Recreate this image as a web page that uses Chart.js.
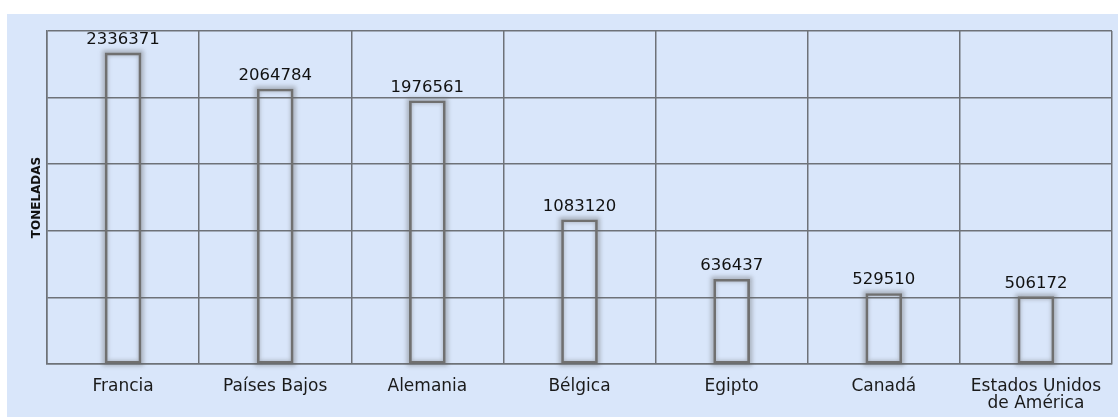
<!DOCTYPE html>
<html>
<head>
<meta charset="utf-8">
<script src="https://cdn.jsdelivr.net/npm/chart.js@4/dist/chart.umd.min.js"></script>
<style>
  html,body{margin:0;padding:0;background:#ffffff;}
  #wrap{width:1118px;height:417px;position:relative;}
</style>
</head>
<body>
<div id="wrap"><canvas id="c" width="1118" height="417"></canvas></div>
<script>
const categories = ["Francia", "Países Bajos", "Alemania", "Bélgica", "Egipto", "Canadá", ["Estados Unidos", "de América"]];
const toneladas = [2336371, 2064784, 1976561, 1083120, 636437, 529510, 506172];
const yAxisTitle = "TONELADAS";
const yMin = 0, yMax = 2500000, yStep = 500000;

const BG = '#d9e6fa';
const GRID = '#6e7278';

const bgPlugin = {
  id: 'bg',
  beforeDraw(chart) {
    const c = chart.ctx;
    c.save();
    c.fillStyle = '#ffffff';
    c.fillRect(0, 0, chart.width, chart.height);
    c.fillStyle = BG;
    c.fillRect(7, 14, chart.width - 7, chart.height - 14);
    c.restore();
  }
};

const shadowLabels = {
  id: 'shadowLabels',
  beforeDatasetsDraw(chart) {
    const c = chart.ctx;
    const meta = chart.getDatasetMeta(0);
    c.save();
    c.filter = 'blur(2px)';
    c.strokeStyle = 'rgba(90,90,90,0.4)';
    c.lineWidth = 5;
    meta.data.forEach(el => {
      const p = el.getProps(['x', 'y', 'base', 'width'], true);
      c.strokeRect(p.x - p.width / 2, p.y, p.width, p.base - p.y);
    });
    c.restore();
  },
  afterDatasetsDraw(chart) {
    const c = chart.ctx;
    const meta = chart.getDatasetMeta(0);
    const data = chart.data.datasets[0].data;
    c.save();
    c.font = '16.5px "DejaVu Sans"';
    c.fillStyle = '#111111';
    c.textAlign = 'center';
    c.textBaseline = 'alphabetic';
    meta.data.forEach((el, i) => {
      const p = el.getProps(['x', 'y'], true);
      c.fillText(String(data[i]), p.x, p.y - 9);
    });
    c.restore();
  }
};

new Chart(document.getElementById('c'), {
  type: 'bar',
  data: {
    labels: categories,
    datasets: [{
      data: toneladas,
      backgroundColor: 'rgba(0,0,0,0)',
      borderColor: '#707070',
      borderWidth: 2,
      borderSkipped: false,
      barThickness: 36,
      categoryPercentage: 1,
      barPercentage: 1
    }]
  },
  options: {
    responsive: false,
    animation: false,
    devicePixelRatio: 1,
    layout: { padding: { top: 31, right: 6, left: 0, bottom: 0 } },
    plugins: { legend: { display: false }, tooltip: { enabled: false } },
    scales: {
      x: {
        grid: { color: GRID, lineWidth: 1.5, drawTicks: false, offset: true },
        border: { display: true, color: GRID, width: 1.5 },
        ticks: {
          color: '#1a1a1a',
          font: { family: '"DejaVu Sans"', size: 17, lineHeight: 1.0 },
          padding: 14,
          maxRotation: 0,
          autoSkip: false
        },
        afterFit(s) { s.height = 53; }
      },
      y: {
        min: yMin, max: yMax,
        grid: { color: GRID, lineWidth: 1.5, drawTicks: false },
        border: { display: true, color: GRID, width: 1.5 },
        ticks: { display: false, stepSize: yStep },
        title: {
          display: true,
          text: yAxisTitle,
          color: '#111111',
          font: { family: '"DejaVu Sans"', size: 12, weight: 'bold' },
          padding: { top: 30, bottom: 0 }
        },
        afterFit(s) { s.width = 47; }
      }
    }
  },
  plugins: [bgPlugin, shadowLabels]
});
</script>
</body>
</html>
